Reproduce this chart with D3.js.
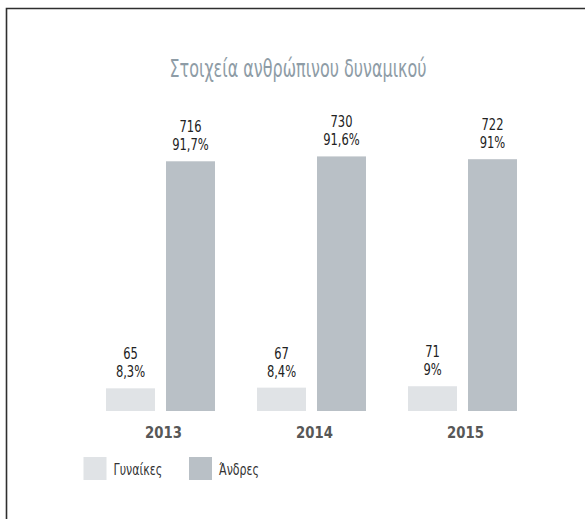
<!DOCTYPE html>
<html>
<head>
<meta charset="utf-8">
<script src="https://cdn.jsdelivr.net/npm/d3@7"></script>
<style>
  body { margin: 0; background: #fff; }
  text { font-family: "DejaVu Sans Condensed", "DejaVu Sans", sans-serif; font-stretch: condensed; }
</style>
</head>
<body>
<div id="chart"></div>
<script>
const years = ['2013', '2014', '2015']
const seriesKeys = ['women', 'men']
const seriesNames = ['Γυναίκες', 'Άνδρες']
const women = [65, 67, 71]
const men = [716, 730, 722]
const womenPct = ['8,3%', '8,4%', '9%']
const menPct = ['91,7%', '91,6%', '91%']
const title = 'Στοιχεία ανθρώπινου δυναμικού'

const colors = { women: '#e0e3e6', men: '#b9c0c6' }

const width = 585
const height = 519

// the original font is much narrower, so squeeze text horizontally
const squeeze = (x, y, s) => `translate(${x},${y}) scale(${s},1)`

const svg = d3.select('#chart')
    .append('svg')
    .attr('width', width)
    .attr('height', height)

// frame: only the top and left edges show
svg.append('path')
    .attr('d', `M6.5,${height} V8.5 H${width}`)
    .attr('fill', 'none')
    .attr('stroke', '#2e2e2e')
    .attr('stroke-width', 1.6)

svg.append('text')
    .attr('transform', squeeze(298, 77, 0.74))
    .attr('text-anchor', 'middle')
    .attr('font-size', 24)
    .attr('fill', '#8e9ca6')
    .text(title)

const data = years.map((y, i) => ({
    year: y,
    values: [
        { key: 'women', value: women[i], pct: womenPct[i] },
        { key: 'men', value: men[i], pct: menPct[i] }
    ]
}))

const x0 = d3.scaleBand()
    .domain(years)
    .range([85, 538])
    .paddingInner(42 / 151)
    .paddingOuter(21 / 151)

const x1 = d3.scaleBand()
    .domain(seriesKeys)
    .range([0, x0.bandwidth()])
    .paddingInner(11 / 60)

const y = d3.scaleLinear()
    .domain([0, 800])
    .range([411, 132])

const groups = svg.selectAll('.group')
    .data(data)
    .join('g')
    .attr('class', 'group')
    .attr('transform', (d) => `translate(${x0(d.year)},0)`)

groups.selectAll('rect')
    .data((d) => d.values)
    .join('rect')
    .attr('x', (d) => x1(d.key))
    .attr('y', (d) => y(d.value))
    .attr('width', x1.bandwidth())
    .attr('height', (d) => y(0) - y(d.value))
    .attr('fill', (d) => colors[d.key])

const midX = (d) => x1(d.key) + x1.bandwidth() / 2

groups.selectAll('.count')
    .data((d) => d.values)
    .join('text')
    .attr('class', 'count')
    .attr('transform', (d) => squeeze(midX(d), y(d.value) - 29, 0.8))
    .attr('text-anchor', 'middle')
    .attr('font-size', 16)
    .attr('fill', '#222')
    .text((d) => d.value)

groups.selectAll('.pct')
    .data((d) => d.values)
    .join('text')
    .attr('class', 'pct')
    .attr('transform', (d) => squeeze(midX(d), y(d.value) - 11, 0.8))
    .attr('text-anchor', 'middle')
    .attr('font-size', 16)
    .attr('fill', '#222')
    .text((d) => d.pct)

groups.append('text')
    .attr('transform', squeeze(x0.bandwidth() / 2 + 3, 438, 0.92))
    .attr('text-anchor', 'middle')
    .attr('font-size', 16)
    .attr('font-weight', 'bold')
    .attr('fill', '#575757')
    .text((d) => d.year)

// legend
const legend = svg.selectAll('.legend')
    .data(seriesKeys)
    .join('g')
    .attr('class', 'legend')
    .attr('transform', (d, i) => `translate(${83.5 + i * 105.5},457)`)

legend.append('rect')
    .attr('width', 23)
    .attr('height', 23)
    .attr('fill', (d) => colors[d])

legend.append('text')
    .attr('transform', squeeze(30, 17.5, 0.82))
    .attr('font-size', 15)
    .attr('fill', '#333')
    .text((d, i) => seriesNames[i])
</script>
</body>
</html>
